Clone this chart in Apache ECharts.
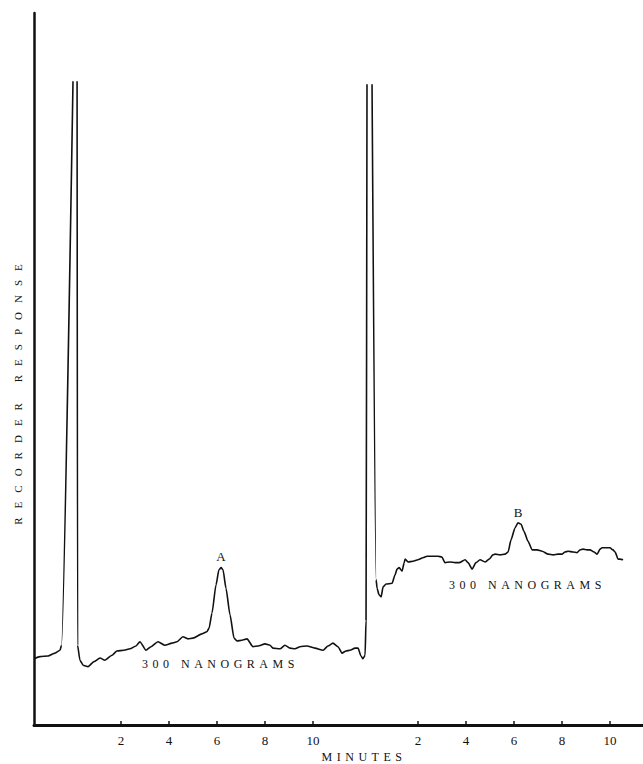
<!DOCTYPE html>
<html>
<head>
<meta charset="utf-8">
<script src="https://cdn.jsdelivr.net/npm/echarts@6/dist/echarts.min.js"></script>
<style>
  html, body { margin: 0; padding: 0; background: #ffffff; }
  #chart { width: 643px; height: 764px; }
</style>
</head>
<body>
<div id="chart"></div>
<script>
// ---- Data (minutes, recorder response in arbitrary units) ----
// Run 1 (peak A). null = pen off-scale (open top of solvent peak)
const run1Minutes = [-1.625,-1.375,-1.04,-0.75,-0.54,-0.48,0,0.085,0.17,0.19,0.29,0.42,0.625,0.875,1.125,1.33,1.625,1.83,2.125,2.375,2.625,2.79,3.04,3.25,3.54,3.83,4.125,4.33,4.58,4.79,5.0,5.375,5.58,5.67,5.79,5.96,6.08,6.17,6.25,6.375,6.54,6.71,6.83,7.04,7.25,7.5,7.71,8.0,8.21,8.33,8.625,8.83,9.04,9.25,9.46,9.75,10.08,10.42,10.625,10.83,11.04,11.21,11.375,11.54,11.75,11.875,12.0,12.08];
const run1Response = [9.3,9.6,9.7,10.1,10.5,11.2,90.4,null,90.4,11.2,9.1,8.4,8.2,8.9,9.4,9.1,9.8,10.4,10.5,10.7,11.1,11.7,10.5,11.0,11.7,11.2,11.5,11.7,12.4,12.1,12.2,12.8,13.1,13.6,15.7,19.7,21.8,22.1,21.8,19.2,15.5,12.2,11.8,11.9,12.1,11.0,11.1,11.4,11.2,10.8,10.7,11.2,10.8,10.7,11.0,11.1,10.8,10.5,11.1,11.5,11.0,10.1,10.4,10.5,10.8,10.8,9.7,9.3];

// Run 2 (peak B), minutes measured from its own injection
const run2Offset = 12.37;
const run2Minutes = [-0.2,-0.16,-0.12,-0.015,0.09,0.26,0.3,0.38,0.47,0.55,0.675,0.925,1.05,1.13,1.22,1.34,1.43,1.47,1.59,1.8,2.0,2.21,2.38,2.63,2.84,3.0,3.13,3.34,3.55,3.72,3.97,4.09,4.26,4.42,4.59,4.8,4.97,5.13,5.22,5.43,5.63,5.76,5.88,6.05,6.17,6.3,6.42,6.59,6.76,6.97,7.18,7.43,7.64,7.84,8.0,8.13,8.26,8.47,8.63,8.76,8.88,9.05,9.17,9.34,9.47,9.59,9.68,9.88,10.0,10.13,10.22,10.34,10.42,10.55];
const run2Response = [9.8,14.7,90.0,null,90.0,20.4,19.2,18.3,18.0,19.4,19.8,19.9,21.1,21.9,22.1,21.6,22.8,23.3,22.9,23.0,23.2,23.5,23.7,23.7,23.7,23.6,22.8,22.9,22.8,22.8,23.2,22.8,21.9,22.8,23.2,22.9,23.3,23.9,24.0,23.9,24.0,24.3,26.0,27.7,28.4,28.2,27.2,25.8,24.6,24.6,24.4,24.0,23.9,24.0,24.0,24.3,24.4,24.3,24.2,24.6,24.7,24.6,24.6,24.3,24.0,24.7,24.9,24.9,24.9,24.6,24.3,23.3,23.3,23.2];

const tickMinutes = [2, 4, 6, 8, 10];

// ---- Build series data ----
const traceData = [];
run1Minutes.forEach((t, i) => traceData.push([t, run1Response[i]]));
run2Minutes.forEach((t, i) => traceData.push([t + run2Offset, run2Response[i]]));

const tickValues = tickMinutes.concat(tickMinutes.map(m => +(m + run2Offset).toFixed(3)));

const serif = '"Liberation Serif", "DejaVu Serif", serif';
const ink = '#111111';

const chart = echarts.init(document.getElementById('chart'), null, { renderer: 'svg' });

chart.setOption({
  animation: false,
  backgroundColor: '#ffffff',
  grid: { left: 34, right: 0, top: 13, bottom: 39, containLabel: false },
  xAxis: {
    type: 'value',
    min: -1.625,
    max: 23.75,
    axisLine: { show: true, onZero: false, lineStyle: { color: ink, width: 3 } },
    axisTick: { show: true, inside: true, length: 4, customValues: tickValues, lineStyle: { color: ink, width: 1.5 } },
    axisLabel: {
      show: true,
      customValues: tickValues,
      margin: 9,
      color: ink,
      fontFamily: serif,
      fontSize: 13,
      formatter: v => String(Math.round(v > 12 ? v - run2Offset : v))
    },
    splitLine: { show: false }
  },
  yAxis: {
    type: 'value',
    min: 0,
    max: 100,
    axisLine: { show: true, onZero: false, lineStyle: { color: ink, width: 2.5 } },
    axisTick: { show: false },
    axisLabel: { show: false },
    splitLine: { show: false }
  },
  series: [{
    type: 'line',
    data: traceData,
    showSymbol: false,
    symbol: 'none',
    connectNulls: false,
    smooth: 0.2,
    smoothMonotone: 'x',
    lineStyle: { color: ink, width: 1.6 },
    silent: true
  }],
  graphic: [
    { type: 'text', x: 18, y: 390, rotation: Math.PI / 2,
      style: { text: 'RECORDER RESPONSE', fill: ink, font: '11px ' + serif, textAlign: 'center', textVerticalAlign: 'middle' } },
    { type: 'text', x: 364, y: 757,
      style: { text: 'MINUTES', fill: ink, font: '12px ' + serif, textAlign: 'center', textVerticalAlign: 'middle' } },
    { type: 'text', x: 221, y: 556,
      style: { text: 'A', fill: ink, font: '13px ' + serif, textAlign: 'center', textVerticalAlign: 'middle' } },
    { type: 'text', x: 518, y: 512,
      style: { text: 'B', fill: ink, font: '13px ' + serif, textAlign: 'center', textVerticalAlign: 'middle' } },
    { type: 'text', x: 142, y: 664,
      style: { text: '300 NANOGRAMS', fill: ink, font: '12px ' + serif, textAlign: 'left', textVerticalAlign: 'middle' } },
    { type: 'text', x: 449, y: 585,
      style: { text: '300 NANOGRAMS', fill: ink, font: '12px ' + serif, textAlign: 'left', textVerticalAlign: 'middle' } }
  ]
});

// Letter spacing (typewriter-style spaced capitals in the reference)
function applySpacing() {
  const spacing = { 'RECORDER RESPONSE': '9px', 'MINUTES': '4.5px', '300 NANOGRAMS': '4.5px' };
  document.querySelectorAll('#chart svg text').forEach(el => {
    const s = spacing[el.textContent];
    if (s) el.setAttribute('letter-spacing', s);
  });
}
applySpacing();
chart.on('finished', applySpacing);
setTimeout(applySpacing, 50);
</script>
</body>
</html>
